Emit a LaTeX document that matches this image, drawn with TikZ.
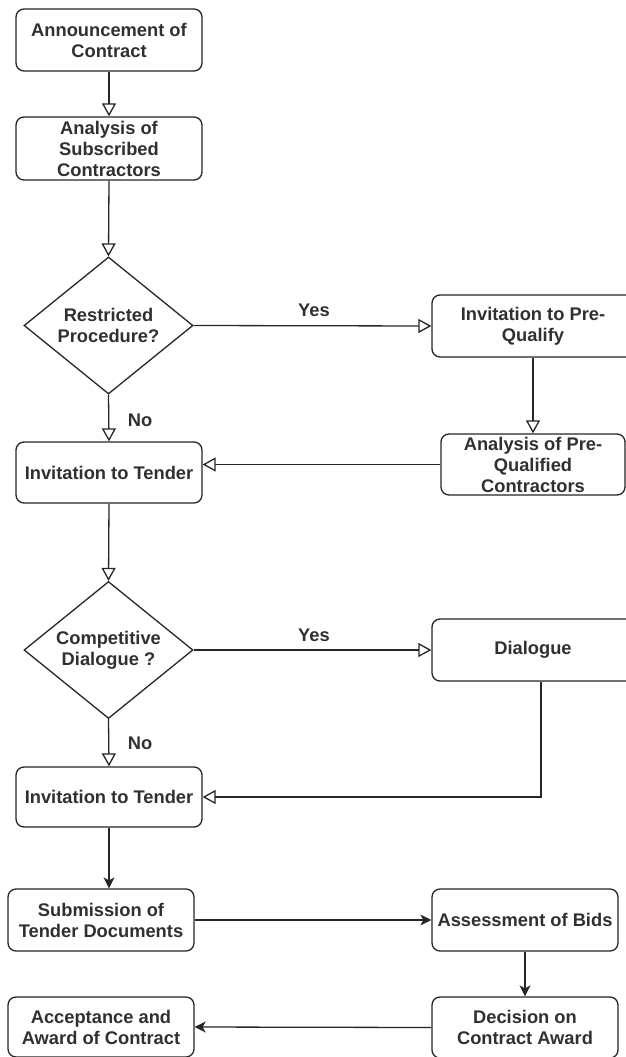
\documentclass[tikz,border=0pt]{standalone}
\usepackage{fontspec}
\setmainfont{Liberation Sans}
\usetikzlibrary{shapes.geometric,arrows.meta}
\definecolor{ink}{HTML}{262626}
\definecolor{txt}{HTML}{303030}
\begin{document}
\begin{tikzpicture}[x=1pt,y=-1pt,
  font=\fontsize{18.3}{21}\selectfont\bfseries,
  stepbox/.style={draw=ink, line width=1.3pt, rounded corners=8pt, fill=white,
    text=txt, align=center, inner sep=0pt, minimum width=#1},
  stepbox/.default=186pt,
  decision/.style={draw=ink, line width=1.3pt, diamond, fill=white, text=txt,
    align=center, inner sep=0pt, shape aspect=1.23,
    minimum width=169pt, minimum height=137pt},
  flowlab/.style={text=txt, inner sep=0pt},
  openflow/.style={draw=ink, line width=1.3pt,
    -{Triangle[open, length=13pt, width=14pt, fill=white]}},
  solidflow/.style={draw=ink, line width=1.3pt,
    -{Stealth[length=11pt, width=11pt, inset=3pt]}}]
\useasboundingbox (0,0) rectangle (626,1057);

% left column
\node[stepbox, minimum height=62pt] (ann) at (109,40) {Announcement of\\Contract};
\node[stepbox, minimum height=63pt] (asc) at (109,148.5) {Analysis of\\Subscribed\\Contractors};
\node[decision] (d1) at (108.5,325.5) {Restricted\\Procedure?};
\node[stepbox, minimum height=61pt] (it1) at (109,472.5) {Invitation to Tender};
\node[decision] (d2) at (108.5,650) {Competitive\\Dialogue ?};
\node[stepbox, minimum height=60pt] (it2) at (109,797) {Invitation to Tender};
\node[stepbox, minimum height=62pt] (sub) at (101,920) {Submission of\\Tender Documents};
\node[stepbox, minimum height=60pt] (acc) at (101,1027) {Acceptance and\\Award of Contract};

% right column
\node[stepbox=202pt, minimum height=62pt] (pq) at (533,326) {Invitation to Pre-\\Qualify};
\node[stepbox=184pt, minimum height=61pt] (apq) at (533,464.5) {Analysis of Pre-\\Qualified\\Contractors};
\node[stepbox=202pt, minimum height=62pt] (dlg) at (533,650) {Dialogue};
\node[stepbox, minimum height=62pt] (ass) at (525,920) {Assessment of Bids};
\node[stepbox, minimum height=61pt] (dec) at (525,1027.5) {Decision on\\Contract Award};

% branch labels
\node[flowlab] (y1) at (314,310) {Yes};
\node[flowlab] (n1) at (140,420) {No};
\node[flowlab] (y2) at (314,635) {Yes};
\node[flowlab] (n2) at (140,743) {No};

\coordinate (dlgturn) at (541,797);

% open-headed connectors
\draw[openflow] (ann.south) -- (asc.north);
\draw[openflow] (asc.south) -- (d1.north);
\draw[openflow] (d1.east) -- (pq.west);
\draw[openflow] (pq.south) -- (apq.north);
\draw[openflow] (apq.west) -- (apq.west -| it1.east);
\draw[openflow] (d1.south) -- (it1.north);
\draw[openflow] (it1.south) -- (d2.north);
\draw[openflow] (d2.east) -- (dlg.west);
\draw[openflow] (d2.south) -- (it2.north);
\draw[openflow] (dlgturn |- dlg.south) -- (dlgturn) -- (it2.east);

% solid-headed connectors
\draw[solidflow] (it2.south) -- (it2.south |- sub.north);
\draw[solidflow] (sub.east) -- (ass.west);
\draw[solidflow] (ass.south) -- (dec.north);
\draw[solidflow] (dec.west) -- (acc.east);
\end{tikzpicture}
\end{document}
